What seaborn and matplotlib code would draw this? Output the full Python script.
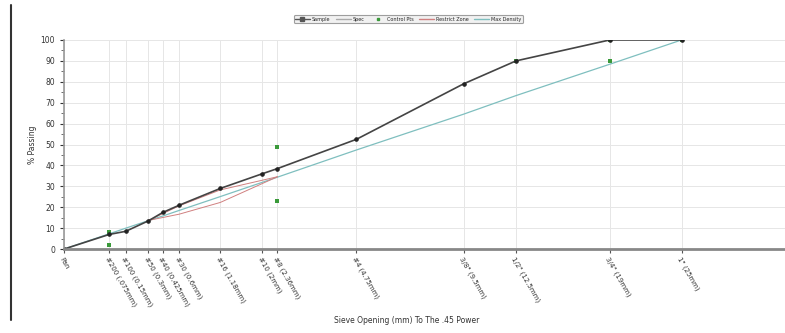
import numpy as np
import pandas as pd
import matplotlib
matplotlib.use("Agg")
import matplotlib.pyplot as plt
import seaborn as sns
from matplotlib.lines import Line2D

# ---- data ----
sieve_labels = ["Pan", "#200 (.075mm)", "#100 (0.15mm)", "#50 (0.3mm)", "#40 (0.425mm)",
                "#30 (0.6mm)", "#16 (1.18mm)", "#10 (2mm)", "#8 (2.36mm)", "#4 (4.75mm)",
                "3/8\" (9.5mm)", "1/2\" (12.5mm)", "3/4\" (19mm)", "1\" (25mm)"]
sieve_mm = [0.0, 0.075, 0.15, 0.3, 0.425, 0.6, 1.18, 2.0, 2.36, 4.75, 9.5, 12.5, 19.0, 25.0]
sample_pct = [0, 7, 8.5, 13.5, 17.5, 21, 29, 36, 38.5, 52.5, 79, 90, 100, 100]
maxdens_pct = [0, 7.3, 10.0, 13.6, 15.8, 18.5, 25.1, 31.9, 34.4, 47.4, 64.5, 73.4, 88.4, 100]

ctrl_mm = [0.075, 0.075, 2.36, 2.36, 12.5, 19.0, 19.0, 25.0]
ctrl_pct = [2, 8, 23, 49, 90, 90, 100, 100]

rz_mm = [0.3, 0.6, 1.18, 2.36]
rz_upper = [13.7, 20.7, 28.3, 34.6]
rz_lower = [13.7, 16.7, 22.3, 34.6]

legend_labels = ["Sample", "Spec", "Control Pts", "Restrict Zone", "Max Density"]

# ---- plotting ----
sns.set_theme(style="white")
plt.rcParams['font.family'] = ['DejaVu Sans']

fig = plt.figure(figsize=(7.85, 3.33), dpi=100)
ax = fig.add_axes([0.0815, 0.252, 0.9185, 0.628])

xs = np.power(np.array(sieve_mm), 0.45)
df_s = pd.DataFrame({"x": xs, "y": sample_pct})
df_m = pd.DataFrame({"x": xs, "y": maxdens_pct})
df_c = pd.DataFrame({"x": np.power(np.array(ctrl_mm), 0.45), "y": ctrl_pct})
rzx = np.power(np.array(rz_mm), 0.45)

sns.lineplot(data=df_m, x="x", y="y", ax=ax, color="#7fbfbf", lw=0.9, sort=False)
sns.lineplot(x=rzx, y=rz_upper, ax=ax, color="#d08080", lw=0.7, sort=False)
sns.lineplot(x=rzx, y=rz_lower, ax=ax, color="#d08080", lw=0.7, sort=False)
sns.lineplot(data=df_s, x="x", y="y", ax=ax, color="#444444", lw=1.2, sort=False,
             marker="o", markersize=2.5, markerfacecolor="#222222", markeredgecolor="#222222")
sns.scatterplot(data=df_c, x="x", y="y", ax=ax, color="#3a9a3a", s=7, marker="s", linewidth=0)

ax.set_xlim(0, 4.97)
ax.set_ylim(0, 100)
ax.set_xticks(xs)
ax.set_xticklabels(sieve_labels, rotation=-60, ha="left", va="top",
                   rotation_mode="anchor", fontsize=5, color="#333333")
ax.set_yticks(np.arange(0, 101, 10))
ax.set_yticks(np.arange(0, 101, 5), minor=True)
ax.tick_params(axis="y", labelsize=5.5, colors="#333333", length=3, width=0.8, which="major", left=True)
ax.tick_params(axis="y", which="minor", length=2, width=0.6, left=True, colors="#555555")
ax.tick_params(axis="x", length=3, width=0.8, bottom=True, colors="#555555", pad=2)
for lab in ax.get_xticklabels() + ax.get_yticklabels():
    lab.set_color("#333333")
ax.grid(True, color="#e6e6e6", lw=0.7)
for s in ["top", "right"]:
    ax.spines[s].set_visible(False)
ax.spines["left"].set_color("#999999")
ax.spines["left"].set_linewidth(1.2)
ax.spines["bottom"].set_color("#888888")
ax.spines["bottom"].set_linewidth(2)
ax.set_xlabel("Sieve Opening (mm) To The .45 Power", fontsize=5.5, color="#333333")
ax.xaxis.set_label_coords(0.475, -0.32)
ax.set_ylabel("% Passing", fontsize=5.5, color="#333333")
ax.yaxis.set_label_coords(-0.038, 0.5)

handles = [
    Line2D([], [], color="#555555", marker="s", markersize=3, lw=1),
    Line2D([], [], color="#aaaaaa", lw=1),
    Line2D([], [], color="#3a9a3a", marker="s", markersize=2, lw=0),
    Line2D([], [], color="#d08080", lw=1),
    Line2D([], [], color="#7fbfbf", lw=1),
]
leg = fig.legend(handles, legend_labels, loc="center", bbox_to_anchor=(0.52, 0.942), ncol=5,
                 fontsize=3.5, frameon=True, handlelength=3, columnspacing=1.2,
                 borderpad=0.3, handletextpad=0.4)
leg.get_frame().set_edgecolor("#888888")
leg.get_frame().set_facecolor("#eeeeee")
leg.get_frame().set_linewidth(0.8)

fig.add_artist(Line2D([0.014, 0.014], [0.04, 0.985], color="#333333", lw=1.5,
                      transform=fig.transFigure))

fig.savefig("out.png", dpi=100)
